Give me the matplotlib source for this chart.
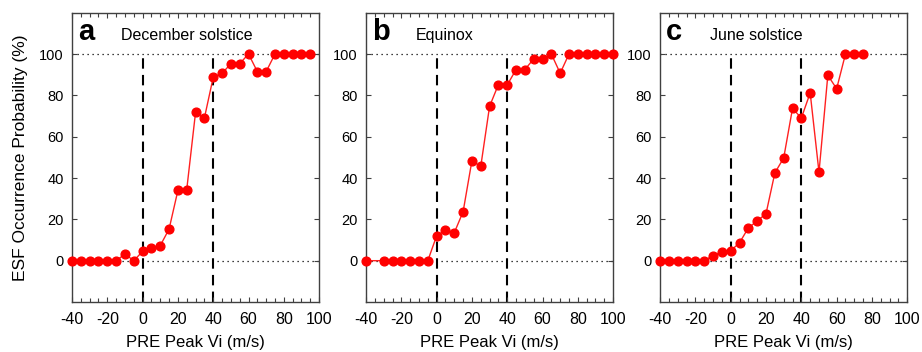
import numpy as np
import matplotlib.pyplot as plt
from matplotlib.ticker import MultipleLocator

# ESF occurrence probability vs PRE peak Vi, one curve per season
vi_dec = np.arange(-40, 100, 5)
esf_dec = [0, 0, 0, 0, 0, 0, 3.2, 0, 4.5, 6, 7.3, 15.3, 34, 34.4, 71.8, 69,
           88.7, 90.6, 95.3, 95.3, 100, 91.5, 91.5, 100, 100, 100, 100, 100]

vi_equ = np.concatenate([[-40], np.arange(-30, 105, 5)])
esf_equ = [0, 0, 0, 0, 0, 0, 0, 12, 14.8, 13.5, 23.7, 48.4, 45.6, 74.7, 85.2,
           85, 92.5, 92.5, 97.6, 97.6, 100, 90.7, 100, 100, 100, 100, 100, 100]

vi_jun = np.arange(-40, 80, 5)
esf_jun = [0, 0, 0, 0, 0, 0, 2.5, 4.3, 4.8, 8.7, 15.9, 19.2, 22.8, 42.5, 49.7,
           73.7, 69, 81.2, 42.8, 89.7, 83.2, 100, 100, 100]

panel_letters = ["a", "b", "c"]
panel_titles = ["December solstice", "Equinox", "June solstice"]
series = [(vi_dec, esf_dec), (vi_equ, esf_equ), (vi_jun, esf_jun)]
vlines = [0, 40]

plt.rcParams['font.family'] = ['Liberation Sans', 'DejaVu Sans']
plt.rcParams['axes.unicode_minus'] = False

fig = plt.figure(figsize=(9.22, 3.52), dpi=100)
lefts = [0.0781, 0.397, 0.716]

for i in range(3):
    ax = fig.add_axes([lefts[i], 0.142, 0.268, 0.822])
    x, y = series[i]

    ax.axhline(0, color='k', linestyle=(0, (1, 3)), linewidth=0.9, zorder=1)
    ax.axhline(100, color='k', linestyle=(0, (1, 3)), linewidth=0.9, zorder=1)
    for v in vlines:
        ax.plot([v, v], [-20, 100], color='k', linestyle=(0, (5, 3)), linewidth=1.5, zorder=1)

    ax.plot(x, y, color='#ff2020', linewidth=1, marker='o', markersize=6.3,
            markerfacecolor='red', markeredgecolor='red', zorder=3, clip_on=False)

    ax.set_xlim(-40, 100)
    ax.set_ylim(-20, 120)
    ax.xaxis.set_major_locator(MultipleLocator(20))
    ax.xaxis.set_minor_locator(MultipleLocator(5))
    ax.set_yticks(np.arange(0, 101, 20))
    ax.tick_params(which='both', direction='in', top=True, right=True, color='#404040')
    ax.tick_params(which='major', length=3.5, width=0.8)
    ax.tick_params(which='minor', length=3.0, width=0.8)
    ax.tick_params(axis='x', labelsize=11.5, pad=7)
    ax.tick_params(axis='y', labelsize=10.5, pad=6)
    for sp in ax.spines.values():
        sp.set_color('#404040')
        sp.set_linewidth(1)

    ax.set_xlabel('PRE Peak Vi (m/s)', fontsize=12, labelpad=6)
    if i == 0:
        ax.set_ylabel('ESF Occurrence Probability (%)', fontsize=12.5, labelpad=8)

    ax.text(0.025, 0.905, panel_letters[i], transform=ax.transAxes,
            fontsize=21, fontweight='bold', va='baseline')
    ax.text(0.20, 0.905, panel_titles[i], transform=ax.transAxes,
            fontsize=11.5, va='baseline')

plt.savefig('out.png', dpi=100)
